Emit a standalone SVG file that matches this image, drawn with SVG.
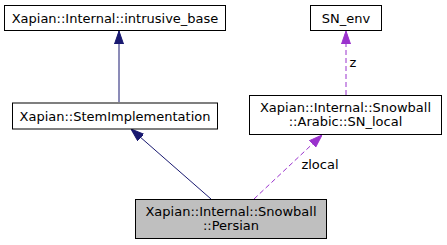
<svg xmlns="http://www.w3.org/2000/svg" width="447" height="245" viewBox="0 0 447 245">
<style>
text{font-family:"DejaVu Sans",sans-serif;font-size:13px;fill:#000;text-anchor:middle}
.box{fill:#fff;stroke:#000;stroke-width:1}
.sel{fill:#bfbfbf;stroke:#000;stroke-width:1}
.inh{stroke:#191970;fill:none;stroke-width:1}
.use{stroke:#9a32cd;fill:none;stroke-width:1;stroke-dasharray:5,3}
</style>
<defs>
<marker id="ah1" viewBox="0 0 13 10" refX="13" refY="5" markerWidth="13" markerHeight="10" markerUnits="userSpaceOnUse" orient="auto"><path d="M0,0.5 L13,5 L0,9.5 z" fill="#191970" stroke="#191970"/></marker>
<marker id="ah2" viewBox="0 0 13 10" refX="13" refY="5" markerWidth="13" markerHeight="10" markerUnits="userSpaceOnUse" orient="auto"><path d="M0,0.5 L13,5 L0,9.5 z" fill="#9a32cd" stroke="#9a32cd"/></marker>
</defs>
<g id="edges">
<path class="inh" d="M119,102 L119,31" marker-end="url(#ah1)"/>
<path class="use" d="M346,95 L346,31" marker-end="url(#ah2)"/>
<path class="inh" d="M211,199 L131,129" marker-end="url(#ah1)"/>
<path class="use" d="M254,199 L322,135" marker-end="url(#ah2)"/>
<text x="353" y="67">z</text>
<text x="320" y="169">zlocal</text>
</g>
<g id="intrusive_base">
<rect class="box" x="4.5" y="5.5" width="221" height="25"/>
<text x="115" y="22.5">Xapian::Internal::intrusive_base</text>
</g>
<g id="SN_env">
<rect class="box" x="310.5" y="5.5" width="71" height="25"/>
<text x="346" y="22.5">SN_env</text>
</g>
<g id="StemImplementation">
<rect class="box" x="12.5" y="103" width="205" height="26"/>
<text x="115" y="120.5">Xapian::StemImplementation</text>
</g>
<g id="SN_local">
<rect class="box" x="249.5" y="95.5" width="192" height="39"/>
<text x="345.5" y="111.5">Xapian::Internal::Snowball</text>
<text x="345.5" y="125.5">::Arabic::SN_local</text>
</g>
<g id="Persian">
<rect class="sel" x="135.5" y="199.5" width="191" height="39"/>
<text x="231" y="215.5">Xapian::Internal::Snowball</text>
<text x="231" y="229.5">::Persian</text>
</g>
</svg>
